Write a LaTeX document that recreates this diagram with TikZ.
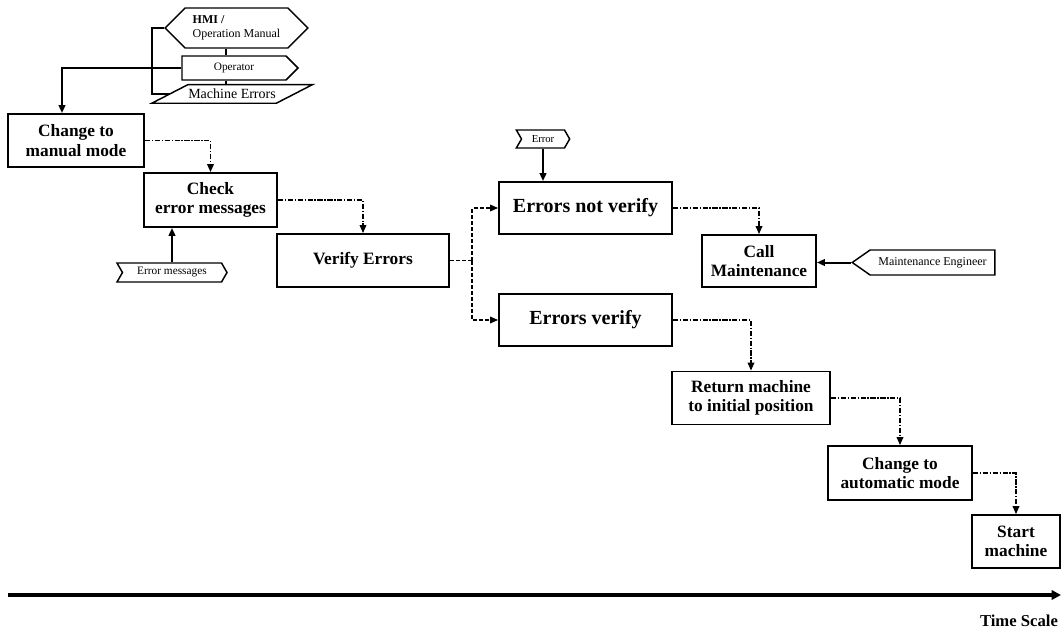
\documentclass[tikz,border=0pt]{standalone}
\usepackage{fontspec}
\setmainfont{Liberation Serif}
\usetikzlibrary{arrows.meta,shapes.symbols}

\begin{document}
\begin{tikzpicture}[x=0.75pt, y=-0.75pt, >={Triangle[length=6pt, width=5pt]}, line join=miter,
		task/.style={draw, line width=1.4pt, align=center, inner sep=2pt, font=\fontsize{13}{14.5}\selectfont\bfseries},
		bigtask/.style={task, font=\fontsize{15}{17}\selectfont\bfseries},
		inputtag/.style={draw, line width=1.1pt, shape=signal, signal to=east, inner sep=1pt, font=\fontsize{8.5}{10}\selectfont},
		flow/.style={->, line width=1.1pt, dash pattern=on 4pt off 1.2pt on 1pt off 1.2pt},
		forkline/.style={line width=1.1pt, dash pattern=on 3pt off 1.5pt},
		feedline/.style={line width=1.5pt}]
	\path[fill=white] (0,0) rectangle (1061,635);
	\useasboundingbox (0,0) rectangle (1061,635);
	% steps of the procedure
	\node[task, minimum width=102pt, minimum height=39.75pt] (manual) at (76,140.5) {Change to\\manual mode};
	\node[task, minimum width=99.75pt, minimum height=40.5pt] (check) at (210.5,200) {Check\\error messages};
	\node[task, minimum width=129pt, minimum height=39.75pt] (verify) at (363,260.5) {Verify Errors};
	\node[bigtask, minimum width=129.75pt, minimum height=39pt] (notver) at (585.5,208) {Errors not verify};
	\node[bigtask, minimum width=129.75pt, minimum height=39pt] (ver) at (585.5,320) {Errors verify};
	\node[task, minimum width=85.5pt, minimum height=39pt] (callm) at (759,261) {Call\\Maintenance};
	\node[task, minimum width=118.5pt, minimum height=39.75pt] (ret) at (751,398) {Return machine\\to initial position};
	\node[task, minimum width=108pt, minimum height=40.5pt] (auto) at (900,473) {Change to\\automatic mode};
	\node[task, minimum width=66pt, minimum height=39.75pt] (start) at (1016,541.5) {Start\\machine};
	% inputs
	\node[inputtag, signal to=west and east, align=left, minimum width=107pt, minimum height=30pt, font=\fontsize{9}{10.5}\selectfont] (hmi) at (236.5,28) {\textbf{HMI /}\\Operation Manual};
	\node[inputtag, minimum width=87pt, minimum height=18pt] (oper) at (234,68) {Operator};
	\node[inner sep=0pt, minimum width=66pt, minimum height=13.5pt, font=\fontsize{10.5}{12}\selectfont] (merr) at (232,94) {Machine Errors};
	\draw[line width=1.1pt] ([xshift=-27pt]merr.south west) -- (merr.north west) -- ([xshift=27pt]merr.north east) -- (merr.south east) -- cycle;
	\node[inputtag, signal from=west, signal pointer angle=120, minimum width=82.5pt, minimum height=14.25pt] (errmsg) at (172,272.5) {Error messages};
	\node[inputtag, signal from=west, signal pointer angle=120, minimum width=40pt, minimum height=13.5pt, font=\fontsize{8}{9}\selectfont] (errtag) at (543,139) {Error};
	\node[inputtag, signal to=west, signal pointer angle=70, minimum width=107pt, minimum height=18.75pt, font=\fontsize{9}{10}\selectfont] (meng) at (932.5,262.5) {Maintenance Engineer};
	\coordinate (bus) at (152,28);
	\coordinate (tap) at (226,60);
	\draw[feedline] (hmi.west) -- (bus) |- ([xshift=-13.5pt]merr.west);
	\draw[feedline] (hmi.south -| tap) -- (oper.north -| tap);
	\draw[feedline] (oper.south -| tap) -- (merr.north -| tap);
	\draw[feedline, ->] (oper.west) -| ([xshift=-10.5pt]manual.north);
	\draw[feedline, ->] (errmsg.north) -- (errmsg.north |- check.south);
	\draw[feedline, ->] (errtag.south) -- (errtag.south |- notver.north);
	\draw[feedline, ->] (meng.west) -- (meng.west -| callm.east);
	% sequence
	\coordinate (fork) at (472,260.5);
	\draw[flow] (manual.east) -| (check.north);
	\draw[flow] (check.east) -| (verify.north);
	\draw[forkline] (verify.east) -- (fork);
	\draw[forkline, ->] (fork) |- (notver.west);
	\draw[forkline, ->] (fork) |- (ver.west);
	\draw[flow] (notver.east) -| (callm.north);
	\draw[flow] (ver.east) -| (ret.north);
	\draw[flow] (ret.east) -| (auto.north);
	\draw[flow] (auto.east) -| (start.north);
	% time axis
	\coordinate (t0) at (8,595);
	\coordinate (t1) at (1061,595);
	\draw[line width=2.4pt, -{Triangle[length=7pt, width=7pt]}] (t0) -- (t1);
	\node[font=\fontsize{12.5}{14}\selectfont\bfseries] (tscale) at (1019,621) {Time Scale};
\end{tikzpicture}
\end{document}
